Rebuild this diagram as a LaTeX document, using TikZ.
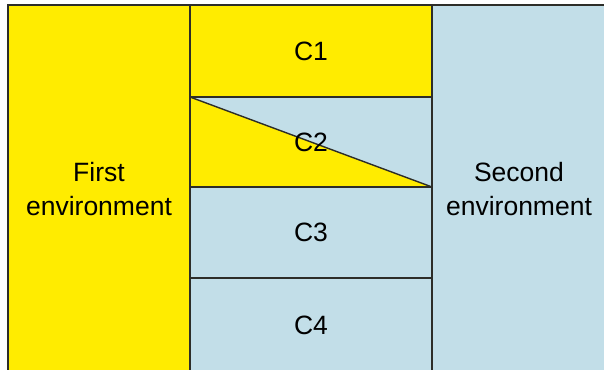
\documentclass[tikz,border=0pt]{standalone}
\usepackage{fontspec}
\setmainfont{Liberation Sans}
\usepackage{xcolor}
\usepackage{tikz}
\usetikzlibrary{positioning}

\definecolor{envyellow}{RGB}{255,236,0}
\definecolor{envblue}{RGB}{194,222,232}
\definecolor{edge}{RGB}{45,45,40}

\begin{document}
\begin{tikzpicture}[
x=1pt,y=-1pt,
cell/.style={draw=edge,line width=1.4pt,inner sep=0pt,outer sep=0pt,minimum width=242pt,align=center,font=\fontsize{26.5}{34}\selectfont},
envbox/.style={cell,minimum height=368pt}
]
\useasboundingbox (0,0) rectangle (604,369);
\clip (0,0) rectangle (604,369);
\node[envbox,fill=envyellow,minimum width=182pt,anchor=north west] (env1) at (8,5) {First\\environment};
\node[cell,fill=envyellow,minimum height=92pt,anchor=north west] (c1) at (env1.north east) {C1};
\node[cell,fill=envblue,minimum height=90pt,anchor=north west] (c2) at (c1.south west) {};
\node[cell,fill=envblue,minimum height=91pt,anchor=north west] (c3) at (c2.south west) {C3};
\node[cell,fill=envblue,minimum height=95pt,anchor=north west] (c4) at (c3.south west) {C4};
\node[envbox,fill=envblue,minimum width=174pt,anchor=north west] (env2) at (c1.north east) {Second\\environment};
% split of the second cell
\fill[envyellow] (c2.north west) -- (c2.south east) -- (c2.south west) -- cycle;
\draw[edge,line width=1.4pt] (c2.north west) -- (c2.south east);
\draw[edge,line width=1.4pt] (c2.north west) rectangle (c2.south east);
\node[font=\fontsize{26.5}{34}\selectfont] (c2text) at (c2.center) {C2};
\end{tikzpicture}
\end{document}
